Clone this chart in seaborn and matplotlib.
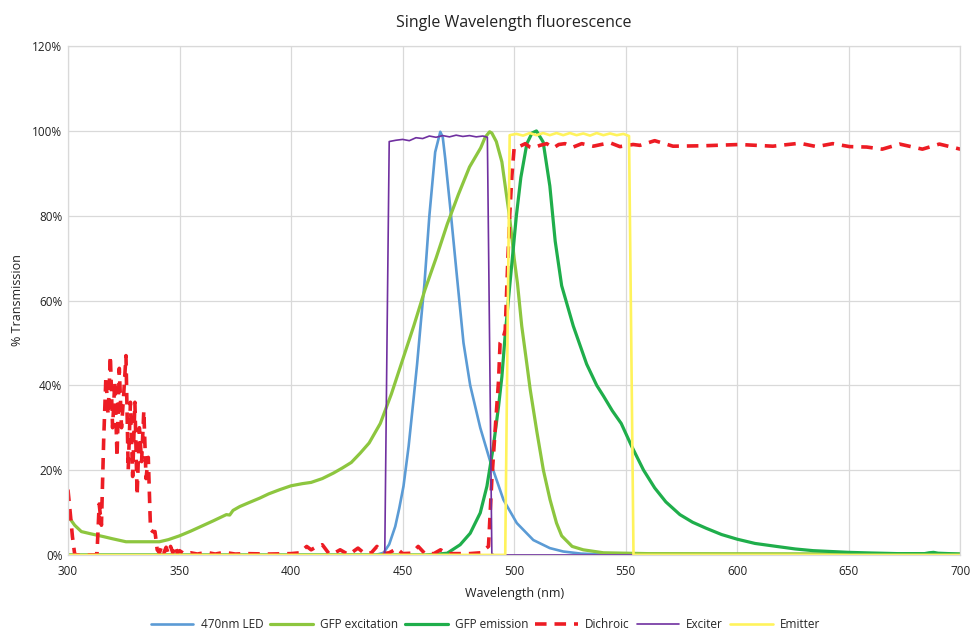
import numpy as np
import pandas as pd
import matplotlib
matplotlib.use("Agg")
import matplotlib.pyplot as plt
import seaborn as sns
from matplotlib.ticker import FuncFormatter, MultipleLocator

# --- data (wavelength in nm, transmission in %) ---
led_nm = [300, 438, 441.5, 444, 446.7, 448.5, 450.4, 452.7, 454.9, 456.5, 458.2, 459.8,
          462, 464.6, 466.9, 468, 469.1, 471.4, 474.3, 477.3, 480.3, 484.8, 489.3, 495.2,
          501.2, 508.6, 516, 522, 530, 540, 700]
led_val = [0, 0, 0.5, 2.5, 6.7, 11, 16.2, 25.6, 36.7, 45, 55, 64,
           80, 95, 99.8, 98.5, 93.5, 81.7, 66, 50, 40, 30, 22, 13,
           7.5, 3.5, 1.6, 0.8, 0.3, 0.1, 0]

exc_nm = [300, 303, 306, 310, 316, 320, 326, 330, 335, 341, 345, 350, 355, 360, 365,
          371, 372.5, 374, 377, 381, 386, 390, 395, 400, 405, 409, 414, 419, 423, 427,
          431, 435, 440, 445, 450, 455, 460, 465, 470, 475, 480, 485, 487, 489, 490,
          492, 494.5, 496, 498, 500, 501.5, 503.4, 505.7, 507.2, 510.2, 513.1, 516.1, 519,
          521.3, 526, 531, 540, 560, 700]
exc_val = [9.2, 7, 5.5, 5, 4.3, 3.8, 3.1, 3.1, 3.1, 3.1, 3.6, 4.5, 5.6, 6.8, 8,
           9.5, 9.4, 10.5, 11.4, 12.3, 13.4, 14.4, 15.4, 16.3, 16.8, 17.1, 18, 19.3, 20.5, 21.8,
           24, 26.4, 31, 38, 46, 54, 62.5, 70, 78, 85, 91.5, 96, 98.5, 99.8, 99.5,
           97.5, 92.7, 87, 79.5, 70, 64, 54, 45, 39, 29, 20, 13, 7.5,
           4.5, 2, 1.2, 0.5, 0.3, 0.2]

em_nm = [300, 460, 466, 470, 475.8, 480.3, 484.8, 487.8, 490.7, 493, 494.5, 496, 497.4,
         499.2, 501, 503, 505.7, 508, 510, 513, 516, 518.4, 521.3, 526.5, 529.5, 532.5,
         537, 540, 544, 548, 552.7, 558, 563, 568, 574.3, 580, 586, 593, 600, 608, 617.6,
         626, 634, 642, 650, 660, 672, 680, 684, 686, 688, 690, 695, 700]
em_val = [0, 0, 0.2, 0.4, 2.4, 5.1, 9.9, 16.2, 25.6, 35, 42, 52, 60,
          70, 80, 89, 97, 99.5, 100, 97.4, 87, 74, 63.5, 54, 49.5, 45,
          40, 37.5, 34, 31, 25.6, 20, 15.8, 12.5, 9.5, 7.7, 6.3, 4.8, 3.7, 2.7, 2,
          1.4, 1, 0.8, 0.6, 0.45, 0.3, 0.3, 0.3, 0.5, 0.6, 0.4, 0.3, 0.2]

dich_nm = [300, 301, 302, 303, 304, 306, 308, 310, 312, 313, 314, 315, 316, 317, 318,
           319, 320, 321, 322, 323, 324, 325, 326, 327, 328, 329, 330, 331, 332, 333,
           334, 335, 336, 337, 338, 339, 340, 341, 342, 343, 344, 345, 346, 347, 348,
           349, 350, 352, 355, 358, 362, 366, 370, 375, 380, 390, 400, 404, 407, 409,
           411, 414, 417, 420, 422, 425, 426, 430, 433, 436, 438.5, 441, 444, 447.5, 450,
           454, 457, 460, 464, 467, 470, 475, 480, 485, 488.5, 490, 491.5, 493, 493.7, 495,
           496, 497.2, 498, 499, 500, 501, 503, 505, 507, 508.5, 511.6, 514.6, 517.6, 520,
           522.8, 526.5, 530.3, 535.5, 539, 543, 547.4, 553.3, 556.4, 563, 571.2, 585, 601,
           616, 628, 635.6, 642.8, 650.4, 658, 665, 672.8, 683, 690.6, 700]
dich_val = [15.4, 10, 4.3, 0.2, 0, 0, 0, 0, 0, 0.2, 12, 7, 27, 42, 33,
            47, 30, 41, 23, 44, 30, 38, 47, 20, 36, 18.5, 36, 14, 30, 22,
            34, 18, 23, 6, 5.5, 5.5, 1.2, 0.5, 2, 0.5, 1.8, 0.3, 2, 0.5, 2.2,
            0.4, 1, 0.3, 0.5, 0.2, 0.6, 0.2, 0.6, 0.2, 0.3, 0.2, 0.3, 0.5, 2, 1.2,
            1.8, 2.4, 0.3, 0.6, 1.2, 0.3, 0.1, 1.6, 0.3, 0.5, 2, 0.3, 0.5, 1.5, 0.3,
            0.4, 2, 0.3, 0.3, 1.2, 0.3, 0.3, 0.3, 0.5, 2, 17.7, 29.6, 41, 50, 51,
            53, 70, 80, 89.5, 96, 96, 96.5, 97, 96.2, 96, 96.6, 97, 96, 96.8,
            97, 96.2, 97, 96.4, 96.8, 97.2, 96.3, 96.8, 96.6, 97.7, 96.4, 96.5, 96.8,
            96.4, 97.1, 96.3, 97, 96.3, 96.2, 95.7, 96.9, 95.7, 96.9, 95.7]

exciter_nm = [300, 442, 443, 444, 447, 450, 453, 456, 459, 462, 465, 468, 471, 474, 477,
              480, 483, 486, 488, 489, 490, 491, 700]
exciter_val = [0, 0, 50, 97.5, 97.8, 98, 97.7, 98.4, 98.2, 98.8, 98.5, 98.9, 98.6, 99, 98.7,
               98.9, 98.6, 98.8, 98.5, 50, 0.3, 0, 0]

emitter_nm = [300, 496, 497, 498, 501, 504, 507, 510, 513, 516, 519, 522, 525, 528, 531,
              534, 537, 540, 543, 546, 549, 551.5, 552.5, 553.5, 700]
emitter_val = [0, 0, 50, 99, 99.3, 98.9, 99.5, 99, 99.5, 99, 99.5, 99, 99.5, 99, 99.4,
               98.9, 99.5, 99, 99.4, 99, 99.3, 98.8, 50, 0, 0]

series = ["470nm LED", "GFP excitation", "GFP emission", "Dichroic", "Exciter", "Emitter"]
colors = ["#5B9BD5", "#8DC63F", "#1FAE4B", "#ED1C24", "#7030A0", "#FFF35C"]
widths = [1.9, 2.3, 2.3, 2.6, 1.2, 1.9]

frames = []
for name, nm, val in zip(series,
                         [led_nm, exc_nm, em_nm, dich_nm, exciter_nm, emitter_nm],
                         [led_val, exc_val, em_val, dich_val, exciter_val, emitter_val]):
    frames.append(pd.DataFrame({"Wavelength": nm, "Transmission": val, "Series": name}))
df = pd.concat(frames, ignore_index=True)

sns.set_theme(style="whitegrid")
plt.rcParams["font.family"] = ["Open Sans", "DejaVu Sans"]

fig = plt.figure(figsize=(9.71, 6.32), dpi=100)
ax = fig.add_axes([0.070, 0.122, 0.919, 0.805])

for name, c, lw in zip(series, colors, widths):
    d = df[df["Series"] == name]
    sns.lineplot(data=d, x="Wavelength", y="Transmission", ax=ax, color=c, lw=lw,
                 label=name, estimator=None, sort=False)
    if name == "Dichroic":
        ax.lines[-1].set_linestyle((0, (3.2, 2.2)))

ax.set_xlim(300, 700)
ax.set_ylim(0, 120)
ax.xaxis.set_major_locator(MultipleLocator(50))
ax.yaxis.set_major_locator(MultipleLocator(20))
ax.yaxis.set_major_formatter(FuncFormatter(lambda v, p: f"{v:.0f}%"))
ax.grid(True, color="#D9D9D9", lw=0.9)
for s in ax.spines.values():
    s.set_color("#D9D9D9")
    s.set_linewidth(0.9)
ax.tick_params(length=0, labelsize=8.5, colors="#222222")
ax.tick_params(axis="x", pad=7.5)
ax.tick_params(axis="y", pad=4)

ax.set_xlabel("Wavelength (nm)", fontsize=9, color="#222222")
ax.xaxis.label.set_va("center")
ax.xaxis.set_label_coords(0.5, -0.075)
ax.set_ylabel("% Transmission", fontsize=9, color="#222222", labelpad=6)
ax.set_title("Single Wavelength fluorescence", fontsize=11.5, color="#222222", pad=14)

ax.get_legend().remove()
handles, labels = ax.get_legend_handles_labels()
fig.legend(handles, labels, loc="lower center", bbox_to_anchor=(0.5, -0.016), ncol=6,
           frameon=False, fontsize=8.5, handlelength=3.6, handletextpad=0.6,
           columnspacing=0.6)

fig.savefig("out.png", dpi=100)
